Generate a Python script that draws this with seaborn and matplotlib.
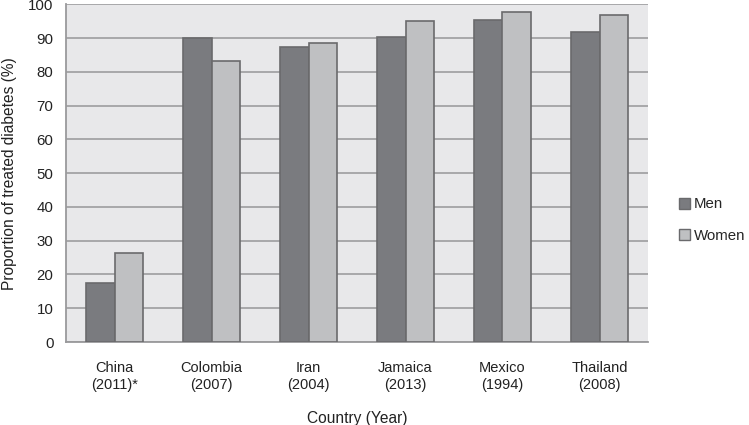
import matplotlib
matplotlib.use("Agg")
import matplotlib.pyplot as plt
import seaborn as sns
import pandas as pd
import numpy as np
from matplotlib.patches import Patch
from matplotlib.ticker import FixedLocator

countries = ["China\n(2011)*", "Colombia\n(2007)", "Iran\n(2004)", "Jamaica\n(2013)", "Mexico\n(1994)", "Thailand\n(2008)"]
men = [17.4, 90.0, 87.4, 90.4, 95.3, 91.8]
women = [26.3, 83.2, 88.4, 95.0, 97.8, 96.8]
groups = ["Men", "Women"]
colors = ["#7a7b7f", "#bfc0c2"]

df = pd.DataFrame({
    "Country": countries * 2,
    "Value": men + women,
    "Sex": ["Men"] * len(countries) + ["Women"] * len(countries),
})

sns.set_style("white")
plt.rcParams["font.family"] = ["Liberation Sans", "DejaVu Sans"]

fig = plt.figure(figsize=(7.49, 4.25), dpi=100)
ax = fig.add_axes([66 / 749, 1 - 342 / 425, (648 - 66) / 749, (342 - 4.3) / 425])
ax.set_facecolor("#e8e8ea")

sns.barplot(data=df, x="Country", y="Value", hue="Sex", hue_order=groups,
            palette=colors, width=0.58, edgecolor="#6a6a6c", linewidth=1.2,
            saturation=1, ax=ax, legend=False, zorder=3)

ax.set_ylim(0, 100)
ax.set_xlim(-0.5, len(countries) - 0.5)
ax.set_yticks(np.arange(0, 101, 10))
ax.yaxis.grid(True, color="#a3a3a5", linewidth=1.3, zorder=0)
ax.set_axisbelow(True)
for s in ["top", "right"]:
    ax.spines[s].set_visible(False)
for s in ["left", "bottom"]:
    ax.spines[s].set_color("#9a9a9c")
    ax.spines[s].set_linewidth(1.3)

ax.tick_params(axis="x", which="major", length=0, pad=14, labelsize=10.5, colors="#222222")
ax.xaxis.set_minor_locator(FixedLocator(np.arange(-0.5, len(countries), 1.0)))
ax.tick_params(axis="x", which="minor", length=5, width=1.2, color="#9a9a9c", direction="out")
ax.tick_params(axis="y", length=5, width=1.2, color="#9a9a9c", labelsize=10.8, labelcolor="#222222", pad=4)

ax.set_xlabel("Country (Year)", fontsize=11.2, color="#222222", labelpad=14)
ax.set_ylabel("Proportion of treated diabetes (%)", fontsize=11.2, color="#222222", labelpad=8)

handles = [Patch(facecolor=c, edgecolor="#6a6a6c", label=g) for c, g in zip(colors, groups)]
fig.legend(handles=handles, loc="center left", bbox_to_anchor=(673 / 749, 1 - 220 / 425),
           frameon=False, fontsize=10.8, labelspacing=1.15, handlelength=0.75, handleheight=0.75,
           handletextpad=0.25, borderaxespad=0)

fig.savefig("out.png", dpi=100)
